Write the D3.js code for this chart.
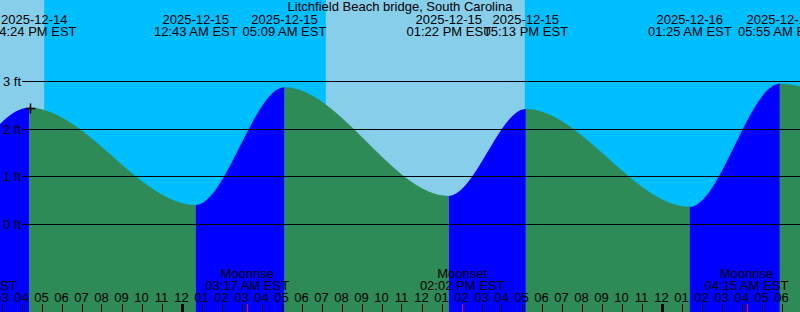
<!DOCTYPE html>
<html><head><meta charset="utf-8">
<script src="https://cdn.jsdelivr.net/npm/d3@7"></script>
<style>
body{margin:0;overflow:hidden;background:#fff}
svg{display:block}
text{font-family:"Liberation Sans",Arial,sans-serif;font-size:13px;fill:#000}
</style>
</head><body>
<svg id="c" width="800" height="312"></svg>
<script>
// ---- data ----
const title = "Litchfield Beach bridge, South Carolina";
const tideTimes = ["2025-12-14 12:22","2025-12-14 16:24","2025-12-15 00:43","2025-12-15 05:09","2025-12-15 13:22","2025-12-15 17:13","2025-12-16 01:25","2025-12-16 05:55","2025-12-16 14:05"];
const tideHeights = [0.50, 2.44, 0.40, 2.87, 0.59, 2.41, 0.36, 2.94, 0.45];
const moonTimes = ["2025-12-14 13:39","2025-12-15 03:17","2025-12-15 14:02","2025-12-16 04:15"];
const moonEvents = ["Moonset","Moonrise","Moonset","Moonrise"];
const sunriseTimes = ["2025-12-14 07:12","2025-12-15 07:13"];
const sunsetTimes = ["2025-12-14 17:08","2025-12-15 17:10"];
const heightTicks = [0, 1, 2, 3];
const viewStart = "2025-12-14 14:55:30";
const viewEnd = "2025-12-16 06:55:30";

// ---- setup ----
const W = 800, H = 312;
const parse = s => d3.timeParse(s.length > 16 ? "%Y-%m-%d %H:%M:%S" : "%Y-%m-%d %H:%M")(s);
const svg = d3.select("#c");
const x = d3.scaleTime().domain([parse(viewStart), parse(viewEnd)]).range([0, W]);
const y = d3.scaleLinear().domain([0, 3]).range([224, 81]);

const tides = tideTimes.map((t, i) => ({t: parse(t), h: tideHeights[i]}));

// background: night then day rects
svg.append("rect").attr("width", W).attr("height", H).attr("fill", "#00BFFF");
sunriseTimes.forEach((s, i) => {
  const x0 = Math.max(0, x(parse(s))), x1 = Math.min(W, x(parse(sunsetTimes[i])));
  if (x1 > x0) svg.append("rect").attr("x", x0).attr("y", 0).attr("width", x1 - x0).attr("height", H).attr("fill", "#87CEEB");
});

// tide area as clip
const area = d3.area().x(d => x(d.t)).y0(H + 10).y1(d => y(d.h)).curve(d3.curveMonotoneX);
svg.append("clipPath").attr("id", "tclip").append("path").attr("d", area(tides));
const g = svg.append("g").attr("clip-path", "url(#tclip)");
for (let i = 0; i < tides.length - 1; i++) {
  const a = tides[i], b = tides[i + 1];
  g.append("rect").attr("x", x(a.t)).attr("y", 0).attr("width", x(b.t) - x(a.t)).attr("height", H)
    .attr("fill", b.h > a.h ? "#0000FF" : "#2E8B57");
}

// height grid lines
heightTicks.forEach(v => {
  const yy = Math.round(y(v)) + 0.5;
  svg.append("line").attr("x1", 22).attr("x2", W).attr("y1", yy).attr("y2", yy).attr("stroke", "#000").attr("stroke-width", 1);
  svg.append("text").attr("x", 3).attr("y", yy + 4.5).text(v + " ft");
});

// marker at first visible extreme
const first = tides.find(d => x(d.t) >= 0);
const mx = Math.round(x(first.t)) + 0.5, my = Math.round(y(first.h)) + 0.5;
svg.append("path").attr("d", `M${mx-5},${my}H${mx+5}M${mx},${my-5}V${my+5}`).attr("stroke", "#000").attr("stroke-width", 1.5);

// title
svg.append("text").attr("x", W / 2).attr("y", 11).attr("text-anchor", "middle").text(title);

// tide labels
const fDate = d3.timeFormat("%Y-%m-%d"), fTime = d3.timeFormat("%I:%M %p EST");
tides.filter(d => x(d.t) >= 0 && x(d.t) <= W).forEach(d => {
  const lg = svg.append("g");
  const t1 = lg.append("text").attr("y", 23.5).attr("text-anchor", "middle").text(fDate(d.t));
  const t2 = lg.append("text").attr("y", 35.5).attr("text-anchor", "middle").text(fTime(d.t));
  const w = t1.node().getComputedTextLength();
  const cx = Math.max(x(d.t), w / 2 + 1);
  t1.attr("x", cx); t2.attr("x", cx);
});

// hour axis
const hours = x.ticks(d3.timeHour.every(1));
const fHour = d3.timeFormat("%I");
hours.forEach(h => {
  const hx = Math.round(x(h));
  const mid = h.getHours() === 0;
  svg.append("rect").attr("x", mid ? hx - 1 : hx).attr("y", 304).attr("width", mid ? 3 : 1).attr("height", 8).attr("fill", "#000");
  svg.append("text").attr("x", x(h)).attr("y", 301.5).attr("text-anchor", "middle").text(fHour(h));
});

// moon events
moonTimes.forEach((m, i) => {
  const t = parse(m), mx2 = x(t);
  svg.append("rect").attr("x", Math.round(mx2)).attr("y", 304).attr("width", 1).attr("height", 8).attr("fill", "#FF0000");
  svg.append("text").attr("x", mx2).attr("y", 278).attr("text-anchor", "middle").text(moonEvents[i]);
  svg.append("text").attr("x", mx2).attr("y", 289.5).attr("text-anchor", "middle").text(fTime(t));
});
</script>
</body></html>
